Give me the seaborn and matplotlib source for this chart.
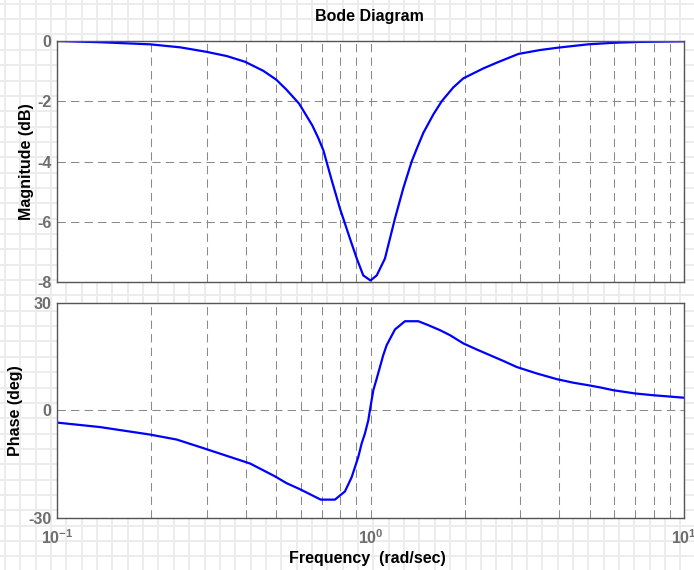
import numpy as np
import pandas as pd
import matplotlib
matplotlib.use("Agg")
import matplotlib.pyplot as plt
from matplotlib.ticker import LogLocator, FixedLocator, NullFormatter, LogFormatterSciNotation
import seaborn as sns

# Magnitude response samples (frequency in rad/sec, magnitude in dB)
mag_freq = [0.1, 0.137, 0.198, 0.247, 0.300, 0.348, 0.398, 0.455, 0.50, 0.540,
            0.592, 0.652, 0.680, 0.707, 0.752, 0.799, 0.860, 0.904, 0.948, 1.0,
            1.047, 1.112, 1.197, 1.272, 1.353, 1.404, 1.474, 1.586, 1.687, 1.837,
            1.977, 2.290, 2.527, 2.962, 3.473, 3.972, 4.951, 5.951, 7.244, 10.0]
mag_db = [0.0, -0.04, -0.11, -0.21, -0.36, -0.50, -0.69, -0.99, -1.28, -1.62,
          -2.08, -2.80, -3.20, -3.62, -4.62, -5.56, -6.56, -7.22, -7.78, -7.95,
          -7.78, -7.22, -5.89, -4.89, -4.0, -3.58, -3.05, -2.44, -2.0, -1.54,
          -1.24, -0.91, -0.72, -0.43, -0.30, -0.22, -0.11, -0.06, -0.03, -0.01]

# Phase response samples (frequency in rad/sec, phase in degrees)
phase_freq = [0.1, 0.137, 0.198, 0.241, 0.286, 0.413, 0.455, 0.496, 0.540, 0.596,
              0.694, 0.770, 0.829, 0.871, 0.914, 0.937, 0.960, 0.984, 1.0, 1.021,
              1.047, 1.072, 1.098, 1.126, 1.197, 1.288, 1.421, 1.529, 1.666, 1.793,
              1.977, 2.182, 2.405, 2.652, 2.926, 3.149, 3.389, 3.93, 4.437, 4.95,
              5.465, 5.95, 6.98, 7.98, 8.81, 10.0]
phase_deg = [-3.45, -4.7, -6.8, -8.2, -10.3, -14.9, -16.8, -18.5, -20.4, -22.1,
             -25.0, -25.0, -22.7, -18.7, -13.1, -9.3, -6.5, -2.8, 1.0, 5.6,
             8.9, 12.1, 15.4, 18.2, 22.6, 24.9, 24.9, 23.8, 22.4, 21.0,
             18.7, 17.0, 15.4, 13.8, 12.1, 11.2, 10.3, 8.7, 7.7, 7.0,
             6.3, 5.6, 4.7, 4.2, 3.9, 3.5]

mag_ticks = [0, -2, -4, -6, -8]
phase_ticks = [-30, 0, 30]
freq_range = (0.1, 10.0)

title_text = "Bode Diagram"
mag_label = "Magnitude (dB)"
phase_label = "Phase (deg)"
freq_label = "Frequency  (rad/sec)"

sns.set_style("white")
plt.rcParams.update({
    "font.family": ["Liberation Sans", "DejaVu Sans"],
    "font.weight": "bold",
    "axes.labelweight": "bold",
    "axes.titleweight": "bold",
    "axes.unicode_minus": False,
    "mathtext.fontset": "custom",
    "mathtext.rm": "Liberation Sans:bold",
    "mathtext.it": "Liberation Sans:bold",
    "mathtext.bf": "Liberation Sans:bold",
})

W, H = 694, 570
fig = plt.figure(figsize=(W / 100, H / 100), dpi=100)
fig.patch.set_facecolor("white")

# graph-paper backdrop
bg = fig.add_axes([0, 0, 1, 1], zorder=-5)
bg.set_xlim(0, W)
bg.set_ylim(H, 0)
bg.axis("off")
for gx in np.arange(5.0, W, 15.35):
    bg.axvline(gx, color="#ececec", lw=1.4)
for gy in np.arange(3.8, H, 15.35):
    bg.axhline(gy, color="#ececec", lw=1.4)

ax1 = fig.add_axes([57 / W, 1 - 282 / H, 627 / W, 241 / H])
ax2 = fig.add_axes([57 / W, 1 - 517.5 / H, 627 / W, 214.5 / H])

mag_df = pd.DataFrame({"freq": mag_freq, "mag": mag_db})
phase_df = pd.DataFrame({"freq": phase_freq, "phase": phase_deg})

tick_grey = "#6e6e6e"
spine_grey = "#555555"
grid_style = dict(color="#8a8a8a", lw=0.75, ls=(0, (8, 5)))

for ax in (ax1, ax2):
    ax.set_facecolor("white")
    ax.set_xscale("log")

sns.lineplot(data=mag_df, x="freq", y="mag", ax=ax1, color="#0000ff", lw=1.6,
             sort=False, estimator=None)
sns.lineplot(data=phase_df, x="freq", y="phase", ax=ax2, color="#0000ff", lw=1.6,
             sort=False, estimator=None)

ax1.set_ylim(min(mag_ticks), max(mag_ticks))
ax1.yaxis.set_major_locator(FixedLocator(mag_ticks))
ax2.set_ylim(min(phase_ticks), max(phase_ticks))
ax2.yaxis.set_major_locator(FixedLocator(phase_ticks))

for ax in (ax1, ax2):
    ax.set_xlim(*freq_range)
    ax.xaxis.set_major_locator(LogLocator(base=10))
    ax.xaxis.set_minor_locator(LogLocator(base=10, subs=np.arange(2, 10)))
    ax.xaxis.set_minor_formatter(NullFormatter())
    ax.set_axisbelow(True)
    ax.grid(True, which="both", axis="x", **grid_style)
    ax.grid(True, which="major", axis="y", **grid_style)
    ax.tick_params(which="both", direction="in", colors=spine_grey,
                   labelcolor=tick_grey, labelsize=11.5, pad=4)
    ax.tick_params(which="major", length=4, width=0.8)
    ax.tick_params(which="minor", length=2.5, width=0.8)
    for sp in ax.spines.values():
        sp.set_visible(True)
        sp.set_color(spine_grey)
        sp.set_linewidth(1.0)
    ax.set_xlabel("")

ax2.tick_params(axis="x", which="both", pad=7.5)
ax1.xaxis.set_major_formatter(NullFormatter())
ax2.xaxis.set_major_formatter(LogFormatterSciNotation())

ax1.set_ylabel(mag_label, fontsize=11.5, color="black", fontweight="bold")
ax2.set_ylabel(phase_label, fontsize=11.5, color="black", fontweight="bold")
ax1.yaxis.set_label_coords((34 - 57) / 627, 0.5)
ax2.yaxis.set_label_coords((23 - 57) / 627, 0.5)

fig.text(369 / W, 1 - 17 / H, title_text, ha="center", va="center",
         fontsize=11.5, fontweight="bold", color="black")
fig.text(367 / W, 1 - 558 / H, freq_label, ha="center", va="center",
         fontsize=11.5, fontweight="bold", color="black")

fig.savefig("out.png", dpi=100, facecolor="white")
